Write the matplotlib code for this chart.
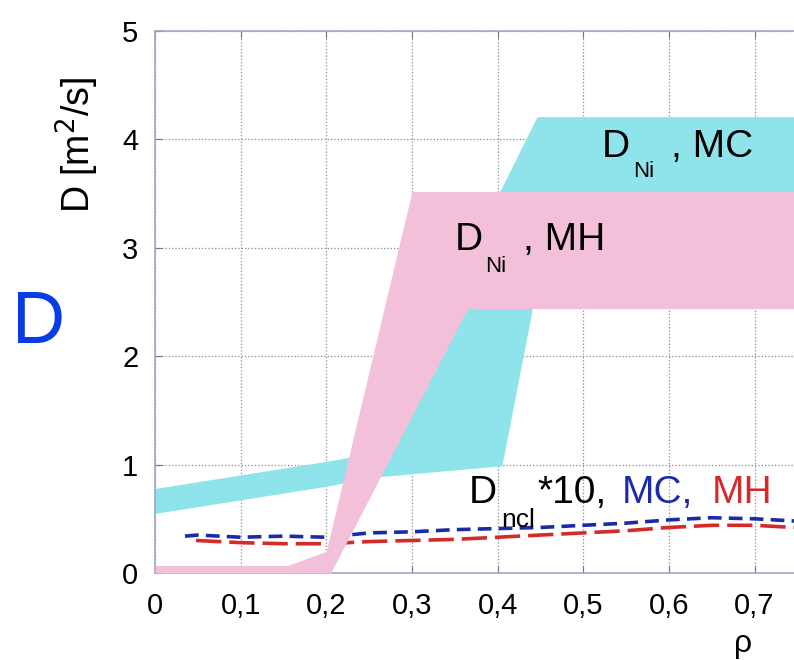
import numpy as np
import matplotlib
matplotlib.use("Agg")
import matplotlib.pyplot as plt

plt.rcParams['font.family'] = ['Liberation Sans', 'DejaVu Sans']

# ---- data ----
# D_Ni, MH band (pink)
mh_band_rho = [0, 0.155, 0.2, 0.205, 0.3, 0.365, 0.746]
mh_band_lo = [0, 0, 0, 0, 1.45, 2.44, 2.44]
mh_band_hi = [0.07, 0.07, 0.2, 0.37, 3.52, 3.52, 3.52]

# D_Ni, MC band (cyan)
mc_band_rho = [0, 0.2, 0.25, 0.405, 0.446, 0.47, 0.746]
mc_band_lo = [0.55, 0.8, 0.88, 0.99, 2.66, 3.0, 3.0]
mc_band_hi = [0.78, 1.03, 1.1, 3.56, 4.21, 4.21, 4.21]

# D_ncl*10 curves
mc_ncl_rho = [0.035, 0.05, 0.1, 0.15, 0.2, 0.25, 0.3, 0.35, 0.4, 0.45, 0.5, 0.55, 0.6, 0.65, 0.7, 0.746]
mc_ncl = [0.34, 0.35, 0.33, 0.34, 0.33, 0.37, 0.38, 0.40, 0.41, 0.42, 0.44, 0.46, 0.49, 0.51, 0.50, 0.48]
mh_ncl_rho = [0.048, 0.1, 0.15, 0.2, 0.25, 0.3, 0.35, 0.4, 0.45, 0.5, 0.55, 0.6, 0.65, 0.7, 0.746]
mh_ncl = [0.30, 0.28, 0.27, 0.27, 0.29, 0.30, 0.31, 0.33, 0.35, 0.37, 0.39, 0.42, 0.44, 0.44, 0.42]

xticks = [0, 0.1, 0.2, 0.3, 0.4, 0.5, 0.6, 0.7]
xtick_labels = ['0', '0,1', '0,2', '0,3', '0,4', '0,5', '0,6', '0,7']
yticks = [0, 1, 2, 3, 4, 5]

PINK = '#f3c0da'
CYAN = '#8ee4ea'
BLUE = '#1a2aa8'
RED = '#d42a2a'

fig = plt.figure(figsize=(7.94, 6.6), dpi=100)
ax = fig.add_axes([155 / 794, 87 / 660, 639 / 794, 542 / 660])

ax.fill_between(mc_band_rho, mc_band_lo, mc_band_hi, color=CYAN, lw=0, zorder=1)
ax.plot(mc_ncl_rho, mc_ncl, color=BLUE, lw=2.6, dashes=(3.8, 2.0), zorder=2)
ax.plot(mh_ncl_rho, mh_ncl, color=RED, lw=2.6, dashes=(7.0, 2.2), zorder=2)
ax.fill_between(mh_band_rho, mh_band_lo, mh_band_hi, color=PINK, lw=0, zorder=3)

ax.set_xlim(0, 0.746)
ax.set_ylim(0, 5)
ax.set_xticks(xticks)
ax.set_xticklabels(xtick_labels)
ax.set_yticks(yticks)
ax.set_axisbelow(True)
ax.grid(True, ls=':', color='#8a8a8a', lw=0.9)

for s in ['left', 'bottom', 'top']:
    ax.spines[s].set_color('#a4a4c8')
    ax.spines[s].set_linewidth(1.2)
ax.spines['right'].set_visible(False)
ax.tick_params(axis='both', direction='in', length=5, color='#777777',
               labelsize=21, top=True, right=False)
ax.tick_params(axis='x', pad=14)
ax.tick_params(axis='y', pad=12)

ax.set_ylabel(r'D [m$^2$/s]', fontsize=27)
ax.yaxis.set_label_coords(-0.085, 0.79)
ax.text(0.92, -0.103, 'ρ', transform=ax.transAxes, ha='center', va='top', fontsize=23)

# band labels
ax.text(0.522, 3.84, 'D', fontsize=28, va='baseline', zorder=5)
ax.text(0.558, 3.65, 'Ni', fontsize=16, va='baseline', zorder=5)
ax.text(0.602, 3.84, ', MC', fontsize=28, va='baseline', zorder=5)

ax.text(0.350, 2.98, 'D', fontsize=28, va='baseline', zorder=5)
ax.text(0.385, 2.78, 'Ni', fontsize=16, va='baseline', zorder=5)
ax.text(0.430, 2.98, ', MH', fontsize=28, va='baseline', zorder=5)

ax.text(0.366, 0.646, 'D', fontsize=28, va='baseline', zorder=5)
ax.text(0.404, 0.42, 'ncl', fontsize=19, va='baseline', zorder=5)
ax.text(0.447, 0.646, '*10,', fontsize=28, va='baseline', zorder=5)
ax.text(0.545, 0.646, 'MC,', fontsize=28, va='baseline', color=BLUE, zorder=5)
ax.text(0.650, 0.646, 'MH', fontsize=28, va='baseline', color=RED, zorder=5)

fig.text(0.048, 1 - 343 / 660, 'D', fontsize=53, color='#0a3ce6', ha='center', va='baseline')

fig.savefig('out.png', dpi=100)
